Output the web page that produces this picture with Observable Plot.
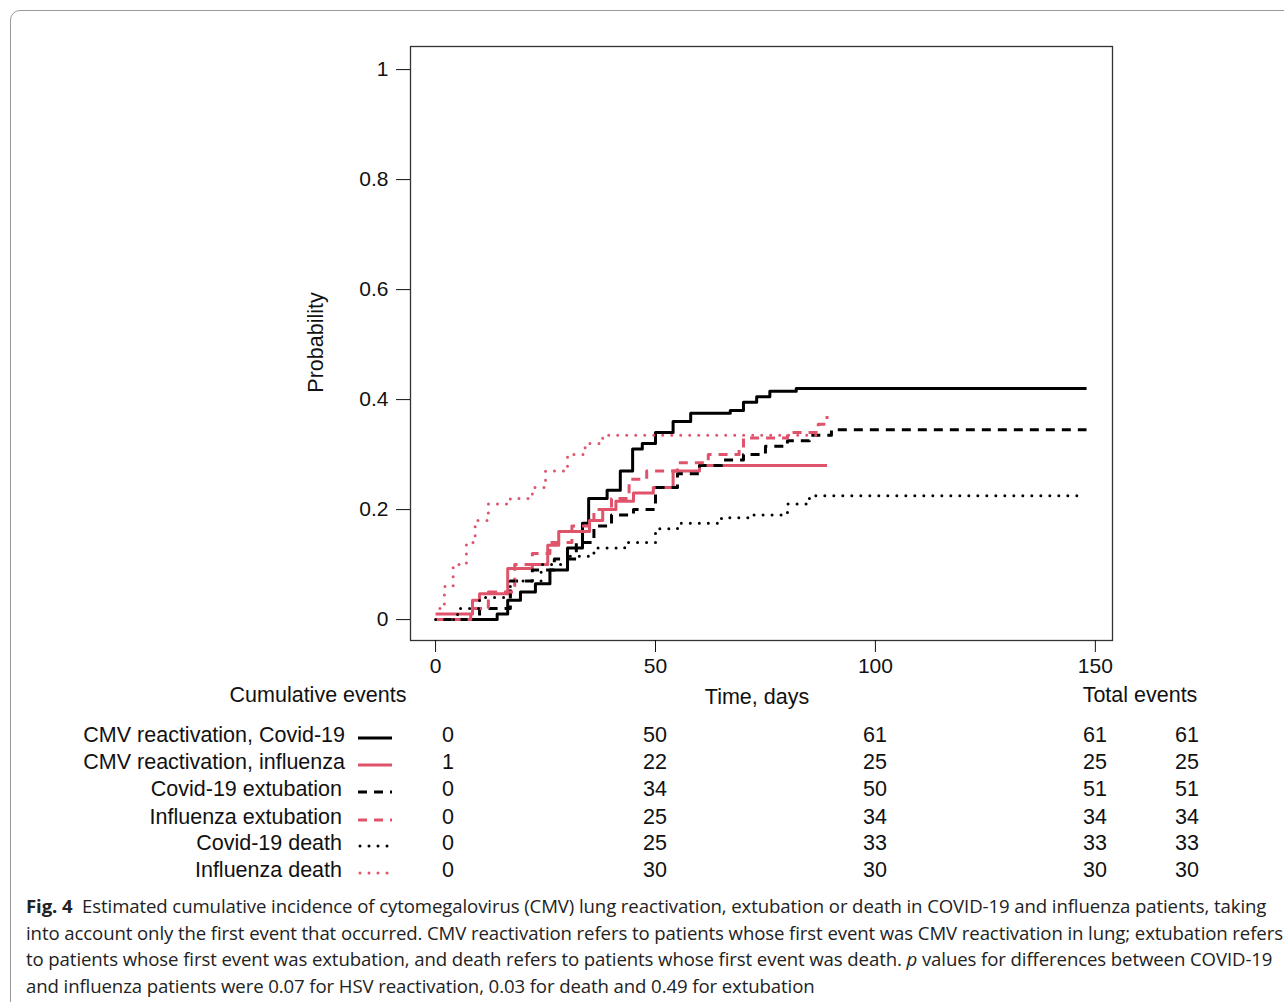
<!DOCTYPE html>
<html><head><meta charset="utf-8">
<script src="https://cdn.jsdelivr.net/npm/d3@7"></script>
<script src="https://cdn.jsdelivr.net/npm/@observablehq/plot@0.6"></script>
<style>
body{margin:0;background:#fff;font-family:"Liberation Sans",Arial,sans-serif;}
#box{position:absolute;left:10px;top:10px;width:1300px;height:1100px;border:1px solid #999;border-radius:10px;}
#chart{position:absolute;left:0;top:0;}
.t{position:absolute;font-size:21.5px;color:#111;white-space:nowrap;}
#cap{position:absolute;left:26px;top:893px;width:1278px;font-family:"Open Sans",sans-serif;font-size:18.6px;letter-spacing:-0.1px;line-height:26.5px;color:#222;}
</style></head><body>
<div id="box"></div>
<div id="chart"></div>
<div id="tbl"></div>
<div id="cap"><b>Fig. 4</b>&nbsp; Estimated cumulative incidence of cytomegalovirus (CMV) lung reactivation, extubation or death in COVID-19 and influenza patients, taking into account only the first event that occurred. CMV reactivation refers to patients whose first event was CMV reactivation in lung; extubation refers to patients whose first event was extubation, and death refers to patients whose first event was death. <i>p</i> values for differences between COVID-19 and influenza patients were 0.07 for HSV reactivation, 0.03 for death and 0.49 for extubation</div>
<script>
// step curves: [day, probability]
const cmvCovid = [[0,0],[12,0],[14,0.01],[16.4,0.035],[19.3,0.05],[22.7,0.065],[26,0.09],[30,0.13],[33.4,0.175],[34.8,0.22],[39,0.235],[42,0.27],[44.8,0.31],[47,0.32],[50,0.34],[54,0.36],[58,0.375],[67,0.38],[70,0.395],[73,0.405],[76,0.415],[82,0.42],[148,0.42]];
const cmvFlu = [[0,0.01],[8.4,0.035],[10,0.047],[16.4,0.093],[22,0.1],[25.5,0.135],[28,0.16],[35,0.18],[38,0.2],[41,0.215],[45,0.23],[49.5,0.24],[54,0.27],[60,0.28],[89,0.28]];
const extCovid = [[0,0],[10,0.02],[17,0.07],[22,0.09],[27,0.11],[32,0.14],[36,0.17],[40,0.19],[45,0.2],[50,0.24],[55,0.265],[60,0.28],[65,0.29],[70,0.3],[75,0.315],[80,0.325],[85,0.335],[90,0.345],[148,0.345]];
const extFlu = [[0,0],[8,0.02],[12,0.05],[18,0.1],[22,0.12],[26,0.14],[31,0.17],[36,0.2],[40,0.22],[44,0.255],[48,0.27],[55,0.285],[62,0.3],[69,0.31],[70,0.33],[80,0.34],[87,0.355],[89,0.37]];
const deathCovid = [[0,0],[5,0.02],[10,0.04],[17,0.07],[24,0.1],[30,0.115],[36,0.13],[43,0.14],[50,0.165],[55,0.175],[65,0.185],[72,0.19],[80,0.21],[85,0.225],[146,0.228]];
const deathFlu = [[1,0.02],[2,0.06],[4,0.1],[7,0.14],[9,0.18],[12,0.21],[17,0.22],[22,0.24],[25,0.27],[30,0.3],[34,0.32],[38,0.335],[88,0.335]];

const labels = ["CMV reactivation, Covid-19","CMV reactivation, influenza","Covid-19 extubation","Influenza extubation","Covid-19 death","Influenza death"];
const colors = ["#000","#df536b","#000","#df536b","#000","#df536b"];
const dashes = ["none","none","9,7","9,7","0,9","0,9"];
const series = [cmvCovid,cmvFlu,extCovid,extFlu,deathCovid,deathFlu];
const cumDays = [0,50,100,150];
const cumEvents = [[0,50,61,61],[1,22,25,25],[0,34,50,51],[0,25,34,34],[0,25,33,33],[0,30,30,30]];
const totalEvents = [61,25,51,34,33,30];

const marks = [Plot.frame({stroke:"#333",strokeWidth:1.3})];
series.forEach((s,i)=>{
  marks.push(Plot.line(s,{x:d=>d[0],y:d=>d[1],curve:"step-after",stroke:colors[i],
    strokeWidth:3,strokeDasharray:dashes[i],strokeLinecap:dashes[i]=="0,9"?"round":"butt"}));
});
marks.push(Plot.axisY({ticks:[0,0.2,0.4,0.6,0.8,1],tickFormat:d=>String(d),tickSize:14,tickPadding:8,fontSize:21,label:null}));
marks.push(Plot.axisX({ticks:cumDays,tickSize:12,tickPadding:6,fontSize:21,label:null}));

const plot = Plot.plot({
  width:1284,height:700,marginLeft:410,marginRight:172,marginTop:46,marginBottom:60,
  x:{domain:[-5.7,153.9]},y:{domain:[-0.038,1.042]},
  style:{fontFamily:"Liberation Sans, Arial, sans-serif",color:"#111",background:"transparent"},
  marks
});
document.getElementById("chart").appendChild(plot);

// y label and table
const tbl = document.getElementById("tbl");
function txt(s,x,y,align){
  const d=document.createElement("div");d.className="t";d.textContent=s;
  d.style.top=(y-13)+"px";
  if(align=="right"){d.style.right=(1284-x)+"px";}
  else if(align=="center"){d.style.left=x+"px";d.style.transform="translateX(-50%)";}
  else d.style.left=x+"px";
  tbl.appendChild(d);return d;
}
const yl = txt("Probability",316,343,"center");
yl.style.transform="translateX(-50%) rotate(-90deg)";
txt("Cumulative events",318,696,"center");
txt("Time, days",757,698,"center");
txt("Total events",1140,696,"center");
const rowY=[736,763,790,818,844,871];
const colX=[448,655,875,1095];
labels.forEach((l,i)=>{
  txt(l,[345,345,342,342,342,342][i],rowY[i],"right");
  cumEvents[i].forEach((v,j)=>txt(String(v),colX[j],rowY[i],"center"));
  txt(String(totalEvents[i]),1187,rowY[i],"center");
});
// legend samples
const ns="http://www.w3.org/2000/svg";
const svg=document.createElementNS(ns,"svg");
svg.setAttribute("width",1284);svg.setAttribute("height",1002);
svg.style.position="absolute";svg.style.left="0";svg.style.top="0";
labels.forEach((l,i)=>{
  const ln=document.createElementNS(ns,"line");
  ln.setAttribute("x1",i>3?360:358);ln.setAttribute("x2",392);
  ln.setAttribute("y1",rowY[i]+2);ln.setAttribute("y2",rowY[i]+2);
  ln.setAttribute("stroke",colors[i]);ln.setAttribute("stroke-width",3);
  ln.setAttribute("stroke-linecap",i>3?"round":"butt");
  if(dashes[i]!="none")ln.setAttribute("stroke-dasharray",dashes[i]);
  svg.appendChild(ln);
});
document.body.appendChild(svg);
</script>
</body></html>
